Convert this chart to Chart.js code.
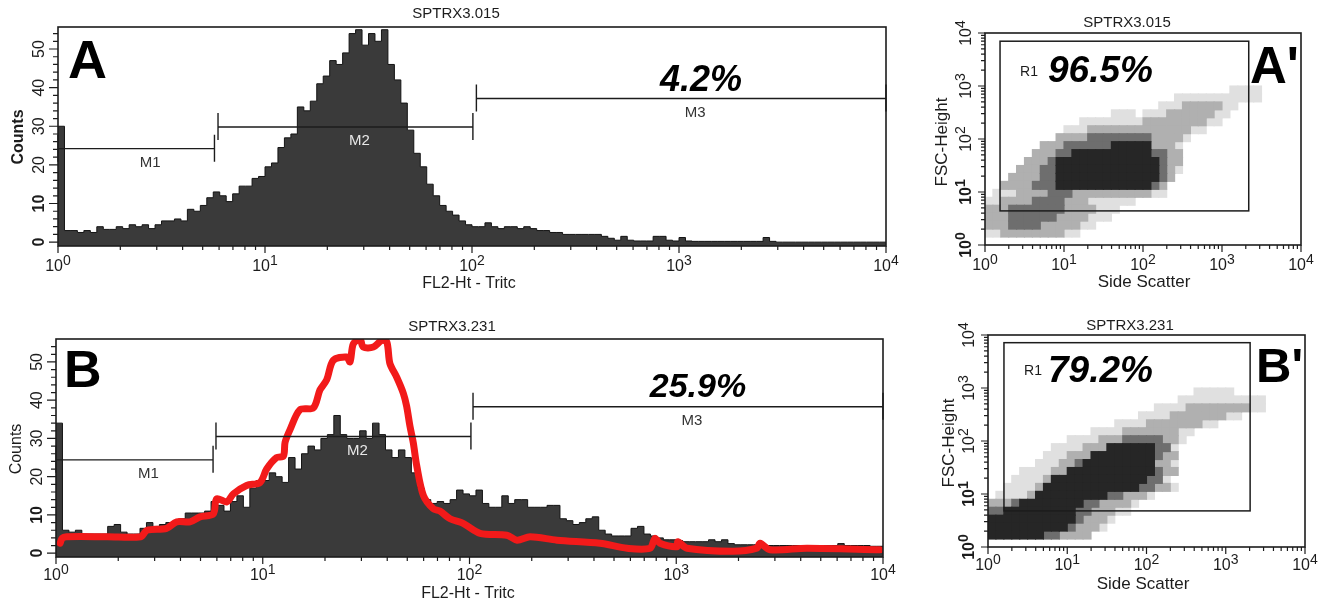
<!DOCTYPE html>
<html>
<head>
<meta charset="utf-8">
<title>SPTRX3 flow cytometry</title>
<script src="https://cdn.jsdelivr.net/npm/chart.js@4.4.1/dist/chart.umd.min.js"></script>
<style>
  body { margin: 0; background: #fff; width: 1324px; height: 603px; overflow: hidden; }
  canvas { position: absolute; }
</style>
</head>
<body>
<canvas id="histA" width="900" height="300" style="left:0;top:0"></canvas>
<canvas id="histB" width="900" height="303" style="left:0;top:300px"></canvas>
<canvas id="dotA" width="414" height="300" style="left:910px;top:0"></canvas>
<canvas id="dotB" width="414" height="303" style="left:910px;top:300px"></canvas>
<script>
// FL2 histograms, 128 channels, 32 channels per log decade (10^0 .. 10^4)
const countsA = [
  30, 3, 3, 2.5, 3, 2.5, 4, 3.3, 3.3, 4,
  3.5, 4.5, 4, 4.5, 3.5, 4.5, 5.5, 5.5, 6, 5.5,
  8.5, 8, 9.5, 11.5, 13, 12, 10.5, 12.5, 14.5, 14.5,
  16.5, 17, 19.5, 20.5, 24.5, 27, 28, 35, 34, 36.5,
  41, 43, 47, 46, 49, 54, 55, 51, 54, 52,
  55, 46, 42, 36, 29, 23, 19.5, 15, 12, 9.5,
  8, 7, 5.5, 4.5, 4, 4, 5, 4, 3.5, 4,
  4, 3.5, 4, 3.5, 3, 3, 2.5, 2.5, 2, 2,
  2, 2, 2, 2, 1.5, 1, 0.5, 1.5, 0.5, 0.3,
  0.3, 0.3, 1.5, 1.5, 0.5, 0.3, 1.2, 0.3, 0.2, 0.2,
  0.2, 0.2, 0.2, 0.2, 0.2, 0.2, 0.2, 0.2, 0.2, 1.2,
  0.2, 0, 0, 0, 0, 0, 0, 0, 0, 0,
  0, 0, 0, 0, 0, 0, 0, 0
];
const countsB = [
  34, 6, 5.5, 6, 5, 5, 5, 5, 7, 7.5,
  5.5, 5, 5, 6.5, 8, 7, 7.5, 8, 8, 9,
  10.5, 10.5, 10.5, 11, 13.5, 12.5, 11, 13.5, 15, 12,
  17, 19, 19, 21, 20, 18.5, 25, 22, 26, 28,
  27, 30, 31, 36, 31, 30, 30, 32, 30, 34,
  31, 27, 25, 27, 25, 21, 17, 14, 13, 13.5,
  13, 14, 16.5, 15.5, 15, 16.5, 13, 12, 12, 15,
  13, 14, 14, 12, 12, 12, 12.5, 12.5, 9, 8.5,
  7.5, 8, 9, 9.5, 6, 5, 4.5, 4.5, 4.5, 6.5,
  7, 5, 4.5, 4, 3.5, 3.5, 3.3, 3, 3, 3,
  3, 3.5, 3, 3.5, 2.5, 2.2, 2.2, 2.2, 2.2, 2.2,
  2, 2, 2, 2, 2, 2, 2, 2, 2, 2,
  2, 2.5, 2, 2, 2, 2, 1.8, 1.8
];

// red overlay drawn on B: log10(FL2) and counts
const redLogB = [0.02, 0.03, 0.05, 0.25, 0.41, 0.44, 0.535, 0.584, 0.648, 0.696,
  0.761, 0.777, 0.826, 0.858, 0.922, 0.987, 1.019, 1.067, 1.1, 1.108,
  1.132, 1.18, 1.245, 1.277, 1.309, 1.341, 1.406, 1.422, 1.438, 1.47,
  1.486, 1.535, 1.575, 1.6, 1.615, 1.648, 1.68, 1.696, 1.712, 1.728,
  1.745, 1.777, 1.825, 1.857, 1.906, 1.969, 2.051, 2.181, 2.23, 2.293,
  2.423, 2.631, 2.762, 2.873, 2.897, 2.921, 3.004, 3.008, 3.052, 3.274,
  3.39, 3.405, 3.453, 3.632, 3.985];
const redCountsB = [2.6, 3.9, 4.3, 4.3, 4.3, 6, 6.5, 8.2, 8.2, 9.5,
  10.3, 14.2, 13.4, 15.5, 17.7, 18.5, 22, 25, 25.4, 29,
  32.3, 37.5, 38, 42.7, 45.3, 50.4, 51.3, 50, 54.7, 56,
  53.9, 53.9, 55.6, 55.2, 49.6, 46, 41.8, 38.4, 33.2, 28.9,
  22.8, 15.1, 11.6, 11, 9, 7.8, 5.2, 4.7, 3.4, 4.3,
  3.4, 2.6, 1.3, 1.3, 3.9, 2.6, 1.7, 3, 1.3, 0.5,
  1.3, 2.6, 0.9, 1.3, 0.9];

// marker gates: [from, to, level in counts]
const markersA = [[1, 5.7, 24.2], [5.93, 101, 29.8], [105, 10000, 37.2]];
const markersB = [[1, 5.75, 24.4], [5.94, 101.6, 30.5], [104, 10000, 38.3]];
const markerNames = ['M1', 'M2', 'M3'];

// R1 gates on the dot plots: [ssc from, ssc to, fsc from, fsc to]
const gateA = [1.55, 2180, 4.4, 7000];
const gateB = [1.59, 2030, 4.8, 7160];

const percents = ['4.2%', '25.9%', '96.5%', '79.2%'];
const countTicks = [0, 10, 20, 30, 40, 50];
const decadeExp = [0, 1, 2, 3, 4];

// dot plot density, cells of 0.1 decade SSC x 0.15 decade FSC.
// rows from FSC 10^2.85 down to 10^0, each [first column, levels]; '.' empty, 1 sparse .. 4 solid
const dotGridA = [
  [31, '1111'],
  [24, '11111111111'],
  [22, '1112222211'],
  [16, '111.11122222211'],
  [12, '111111112222222211'],
  [10, '111222222222222211'],
  [9, '22223333333322221'],
  [7, '222333333444442221'],
  [6, '2223344444444443322'],
  [5, '22234444444444444322'],
  [4, '222334444444444444321'],
  [3, '222233444444444444432'],
  [2, '222233344444444444432'],
  [1, '1112222333222222222211'],
  [0, '1122223333222111111'],
  [0, '22233333332222111'],
  [0, '2223333332222111'],
  [0, '22233332222211'],
  [0, '112222222211'],
  [0, '']
];
const dotGridB = [
  [26, '11111'],
  [24, '11111111111'],
  [21, '11112222222211'],
  [19, '1111222222211'],
  [16, '1111222222211'],
  [13, '1111222222211'],
  [10, '111122233333221'],
  [8, '1111222444444331'],
  [7, '11122244444444322'],
  [6, '111223444444444221'],
  [4, '11112244444444444322'],
  [3, '11112444444444444331'],
  [2, '1111244444444444433221'],
  [1, '11112444444444332221'],
  [0, '2223444444443322221'],
  [0, '334444444443322211'],
  [0, '4444444444432221'],
  [0, '444444444432221'],
  [0, '4444444332222'],
  [0, '']
];
const cellX = 0.1, cellY = 0.15;

const INK = '#1c1c1c';
const FONT = '"Liberation Sans", Arial, Helvetica, sans-serif';
const font = (size, style) => (style ? style + ' ' : '') + size + 'px ' + FONT;
const dotShades = ['#e0e0e0', '#b0b0b0', '#6e6e6e', '#262626'];

function histPoints(counts) {
  const pts = counts.map((c, ch) => ({x: 10 ** (ch / 32), y: c}));
  pts.push({x: 10000, y: counts[counts.length - 1]});
  return pts;
}

function gridPoints(grid, level) {
  const pts = [];
  grid.forEach(([start, cells], i) => {
    const r = grid.length - 1 - i;
    [...cells].forEach((ch, j) => {
      if (ch === String(level)) pts.push({x: 10 ** ((start + j + 0.5) * cellX), y: 10 ** ((r + 0.5) * cellY)});
    });
  });
  return pts;
}

function powLabel(ctx, exp, cx, base, size, bold) {
  const w = bold ? 'bold' : '';
  ctx.font = font(size, w);
  const w1 = ctx.measureText('10').width;
  ctx.font = font(size - 2, w);
  const w2 = ctx.measureText(String(exp)).width;
  const left = cx - (w1 + w2) / 2;
  ctx.textAlign = 'left';
  ctx.textBaseline = 'alphabetic';
  ctx.font = font(size, w);
  ctx.fillText('10', left, base);
  ctx.font = font(size - 2, w);
  ctx.fillText(String(exp), left + w1, base - 6);
}

function rotated(ctx, cx, cy, fn) {
  ctx.save();
  ctx.translate(cx, cy);
  ctx.rotate(-Math.PI / 2);
  fn();
  ctx.restore();
}

const panels = {
  histA: {title: 'SPTRX3.015', titleX: 456, titleY: 14, xTitle: 'FL2-Ht - Tritc', xTitleX: 469, xTitleY: 284,
    xLabelY: 271, yLabelX: 40, yTitle: 'Counts', yTitleX: 19, yTitleY: 137, yTitleBold: true,
    letter: 'A', letterX: 68, letterY: 78, letterSize: 54,
    pct: percents[0], pctX: 701, pctY: 91, pctSize: 36, pctAlign: 'center', markers: markersA},
  histB: {title: 'SPTRX3.231', titleX: 452, titleY: 27, xTitle: 'FL2-Ht - Tritc', xTitleX: 468, xTitleY: 294,
    xLabelY: 280, yLabelX: 38, yTitle: 'Counts', yTitleX: 17, yTitleY: 149, yTitleBold: false,
    letter: 'B', letterX: 64, letterY: 87, letterSize: 52,
    pct: percents[1], pctX: 698, pctY: 97, pctSize: 34, pctAlign: 'center', markers: markersB},
  dotA: {logY: true, title: 'SPTRX3.015', titleX: 217, titleY: 23, xTitle: 'Side Scatter', xTitleX: 234, xTitleY: 282,
    xLabelY: 270, yLabelX: 55, yTitle: 'FSC-Height', yTitleX: 32, yTitleY: 142,
    letter: "A'", letterX: 340, letterY: 83, letterSize: 51,
    pct: percents[2], pctX: 138, pctY: 82, pctSize: 37, pctAlign: 'left', r1X: 119, r1Y: 72, gate: gateA},
  dotB: {logY: true, title: 'SPTRX3.231', titleX: 220, titleY: 26, xTitle: 'Side Scatter', xTitleX: 233, xTitleY: 284,
    xLabelY: 270, yLabelX: 58, yTitle: 'FSC-Height', yTitleX: 39, yTitleY: 143,
    letter: "B'", letterX: 346, letterY: 82, letterSize: 49,
    pct: percents[3], pctX: 138, pctY: 82, pctSize: 37, pctAlign: 'left', r1X: 123, r1Y: 71, gate: gateB}
};

const panelDeco = {
  id: 'panelDeco',
  afterDatasetsDraw(chart) {
    const o = panels[chart.canvas.id];
    const {ctx, chartArea: a} = chart;
    const xs = chart.scales.x, ys = chart.scales.y;
    ctx.save();
    ctx.strokeStyle = INK;
    ctx.fillStyle = INK;

    // axis ticks
    ctx.lineWidth = 1.2;
    ctx.beginPath();
    decadeExp.forEach(e => {
      for (let k = 1; k <= (e < 4 ? 9 : 1); k++) {
        const v = k * 10 ** e, len = k === 1 ? 7 : 4;
        const px = xs.getPixelForValue(v);
        ctx.moveTo(px, a.bottom); ctx.lineTo(px, a.bottom + len);
        if (o.logY) {
          const py = ys.getPixelForValue(v);
          ctx.moveTo(a.left, py); ctx.lineTo(a.left - len, py);
        }
      }
    });
    if (!o.logY) {
      for (let v = 0; v <= 54; v += 2) {
        const py = ys.getPixelForValue(v);
        ctx.moveTo(a.left, py); ctx.lineTo(a.left - (v % 10 ? 5 : 9), py);
      }
    }
    ctx.stroke();

    // M1..M3 markers
    if (o.markers) {
      o.markers.forEach(([from, to, level], i) => {
        const x1 = xs.getPixelForValue(from), x2 = xs.getPixelForValue(to), py = ys.getPixelForValue(level);
        ctx.strokeStyle = INK;
        ctx.lineWidth = 1.4;
        ctx.beginPath();
        ctx.moveTo(x1, py); ctx.lineTo(x2, py);
        ctx.moveTo(x1, py - 14); ctx.lineTo(x1, py + 13);
        ctx.moveTo(x2, py - 14); ctx.lineTo(x2, py + 13);
        ctx.stroke();
        const mid = xs.getPixelForValue(Math.sqrt(from * to)) + 14;
        ctx.fillStyle = i === 1 ? '#e8e8e8' : '#333';
        ctx.font = font(15);
        ctx.textAlign = 'center';
        ctx.textBaseline = 'middle';
        ctx.fillText(markerNames[i], mid, py + 14);
      });
      ctx.fillStyle = INK;
    }

    // R1 region
    if (o.gate) {
      const [x0, x1, y0, y1] = o.gate;
      const gl = xs.getPixelForValue(x0), gr = xs.getPixelForValue(x1);
      const gb = ys.getPixelForValue(y0), gt = ys.getPixelForValue(y1);
      ctx.lineWidth = 1.5;
      ctx.strokeRect(gl, gt, gr - gl, gb - gt);
      ctx.font = font(14);
      ctx.textAlign = 'center';
      ctx.textBaseline = 'middle';
      ctx.fillText('R1', o.r1X, o.r1Y);
    }

    // frame
    ctx.lineWidth = 1.6;
    ctx.strokeRect(a.left, a.top, a.right - a.left, a.bottom - a.top);

    // tick labels
    decadeExp.forEach(e => powLabel(ctx, e, xs.getPixelForValue(10 ** e), o.xLabelY, 16, false));
    if (o.logY) {
      decadeExp.forEach(e => rotated(ctx, o.yLabelX, ys.getPixelForValue(10 ** e),
        () => powLabel(ctx, e, 0, 6, 16, e < 2)));
    } else {
      countTicks.forEach(v => rotated(ctx, o.yLabelX, ys.getPixelForValue(v), () => {
        ctx.font = font(16, v < 20 ? 'bold' : '');
        ctx.textAlign = 'center';
        ctx.textBaseline = 'middle';
        ctx.fillText(String(v), 0, 0);
      }));
    }

    // titles
    ctx.textAlign = 'center';
    ctx.textBaseline = 'middle';
    ctx.font = font(15);
    ctx.fillText(o.title, o.titleX, o.titleY);
    ctx.font = font(o.logY ? 17 : 16);
    ctx.fillText(o.xTitle, o.xTitleX, o.xTitleY);
    rotated(ctx, o.yTitleX, o.yTitleY, () => {
      ctx.font = font(o.logY ? 17 : 16, o.yTitleBold ? 'bold' : '');
      ctx.fillText(o.yTitle, 0, 0);
    });

    // panel letter and percentage
    ctx.textBaseline = 'alphabetic';
    ctx.textAlign = 'left';
    ctx.fillStyle = '#000';
    ctx.font = font(o.letterSize, 'bold');
    ctx.fillText(o.letter, o.letterX, o.letterY);
    ctx.textAlign = o.pctAlign;
    ctx.font = font(o.pctSize, 'italic bold');
    ctx.fillText(o.pct, o.pctX, o.pctY);
    ctx.restore();
  }
};
Chart.register(panelDeco);

function baseOptions(padding, yScale) {
  return {
    responsive: false,
    animation: false,
    devicePixelRatio: 1,
    events: [],
    layout: {padding},
    plugins: {legend: {display: false}, tooltip: {enabled: false}},
    scales: {
      x: {type: 'logarithmic', min: 1, max: 10000, display: false},
      y: yScale
    }
  };
}

function histDataset(counts) {
  return {
    data: histPoints(counts),
    stepped: true,
    fill: 'start',
    backgroundColor: '#3a3a3a',
    borderColor: '#141414',
    borderWidth: 1,
    pointRadius: 0,
    order: 2
  };
}

new Chart(document.getElementById('histA'), {
  type: 'line',
  data: {datasets: [histDataset(countsA)]},
  options: baseOptions({left: 58, top: 27, right: 14, bottom: 54},
    {type: 'linear', min: -1, max: 55.7, display: false})
});

new Chart(document.getElementById('histB'), {
  type: 'line',
  data: {datasets: [
    histDataset(countsB),
    {
      data: redLogB.map((e, i) => ({x: 10 ** e, y: redCountsB[i]})),
      borderColor: '#f21a1a',
      borderWidth: 7,
      tension: 0.3,
      pointRadius: 0,
      fill: false,
      borderCapStyle: 'round',
      borderJoinStyle: 'round',
      order: 1
    }
  ]},
  options: baseOptions({left: 56, top: 39, right: 17, bottom: 46},
    {type: 'linear', min: -1, max: 56, display: false})
});

// densest level first so it is painted on top
function dotDatasets(grid) {
  return [4, 3, 2, 1].map(level => ({
    data: gridPoints(grid, level),
    pointStyle: 'rect',
    pointRadius: 6.4,
    pointBorderWidth: 0,
    backgroundColor: dotShades[level - 1]
  }));
}

new Chart(document.getElementById('dotA'), {
  type: 'scatter',
  data: {datasets: dotDatasets(dotGridA)},
  options: baseOptions({left: 75, top: 33, right: 23, bottom: 55},
    {type: 'logarithmic', min: 1, max: 10000, display: false})
});

new Chart(document.getElementById('dotB'), {
  type: 'scatter',
  data: {datasets: dotDatasets(dotGridB)},
  options: baseOptions({left: 78, top: 35, right: 19, bottom: 56},
    {type: 'logarithmic', min: 1, max: 10000, display: false})
});
</script>
</body>
</html>
